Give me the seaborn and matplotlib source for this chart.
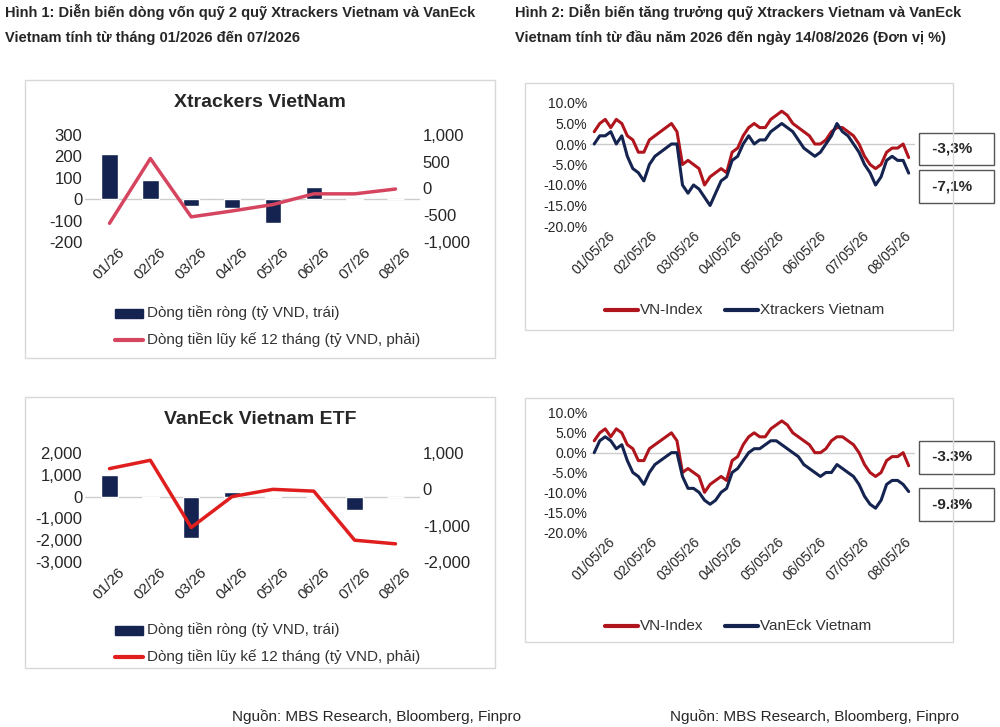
import numpy as np
import pandas as pd
import seaborn as sns
from matplotlib import pyplot as plt
from matplotlib.patches import Rectangle

sns.set_theme(style="white")
plt.rcParams['font.family'] = ['Liberation Sans', 'DejaVu Sans']

NAVY = '#14234f'
RED1 = '#d64560'
RED2 = '#e01e1e'
DRED = '#b0141c'

months = ['01/26', '02/26', '03/26', '04/26', '05/26', '06/26', '07/26', '08/26']
xt_net = [210, 90, -30, -40, -110, 55, -5, 0]
xt_cum = [-650, 560, -530, -420, -300, -100, -100, -10]
ve_net = [1000, -50, -1900, 200, 50, -20, -600, 0]
ve_cum = [570, 800, -1050, -200, 0, -50, -1400, -1500]

perf_ticks = ['01/05/26', '02/05/26', '03/05/26', '04/05/26', '05/05/26', '06/05/26', '07/05/26', '08/05/26']
vn_index = [3, 5, 6, 4, 6, 5, 2, 1, -2, -2, 1, 2, 3, 4, 5, 3, -5, -4, -5, -6, -10, -8, -7, -6, -7, -2, -1, 2, 4,
            5, 4, 4, 6, 7, 8, 7, 5, 4, 3, 2, 0, 0, 1, 3, 4, 4, 3, 2, 0, -3, -5, -6, -5, -2, -1, -1, 0, -3.3]
xtrackers = [0, 2, 2, 3, 0, 2, -3, -6, -7, -9, -5, -3, -2, -1, 0, 0, -10, -12, -10, -11, -13, -15, -12, -9, -8,
             -4, -3, 0, 2, 0, 1, 1, 3, 4, 5, 4, 3, 1, -1, -2, -3, -2, 0, 2, 5, 3, 2, 0, -2, -5, -7, -10, -8, -4,
             -3, -4, -4, -7.1]
vaneck = [0, 3, 4, 3, 1, 2, -2, -5, -6, -8, -5, -3, -2, -1, 0, 0, -6, -9, -9, -10, -12, -13, -12, -10, -9, -5,
          -4, -2, 0, 1, 1, 2, 3, 3, 2, 1, 0, -1, -3, -4, -5, -6, -5, -5, -3, -4, -5, -6, -8, -11, -13, -14, -12,
          -8, -7, -7, -8, -9.8]

fig = plt.figure(figsize=(10, 7.27), dpi=100)
W, H = 1000, 727


def ax_px(x0, y0, x1, y1):
    # pixel box (top-left origin) -> figure axes
    return fig.add_axes([x0 / W, 1 - y1 / H, (x1 - x0) / W, (y1 - y0) / H])


def frame(x0, y0, x1, y1):
    fig.patches.append(Rectangle((x0 / W, 1 - y1 / H), (x1 - x0) / W, (y1 - y0) / H,
                                 transform=fig.transFigure, fill=False, ec='#d8d8d8', lw=1))


def flow_panel(box, axbox, title, net, cum, lcol, lylim, lticks, rylim, rticks, legy):
    frame(*box)
    ax = ax_px(*axbox)
    df = pd.DataFrame({'m': months, 'v': net})
    sns.barplot(data=df, x='m', y='v', color=NAVY, width=0.4, ax=ax, saturation=1)
    ax.axhline(0, color='#cccccc', lw=1, zorder=0)
    ax.set_ylim(*lylim)
    ax.set_yticks(lticks)
    ax.set_yticklabels([f'{t:,}' for t in lticks], fontsize=12)
    ax.set_xlabel('')
    ax.set_ylabel('')
    ax.set_xticks(range(len(months)))
    ax.set_xticklabels(months, rotation=45, fontsize=11)
    ax2 = ax.twinx()
    sns.lineplot(x=range(len(months)), y=cum, color=lcol, lw=2.5, ax=ax2)
    ax2.set_ylim(*rylim)
    ax2.set_yticks(rticks)
    ax2.set_yticklabels([f'{t:,}' for t in rticks], fontsize=12)
    for a in (ax, ax2):
        for s in a.spines.values():
            s.set_visible(False)
        a.tick_params(length=0, pad=2)
    ax.set_xlim(-0.6, 7.6)
    fig.text((box[0] + box[2]) / 2 / W, 1 - (box[1] + 27) / H, title, ha='center', fontsize=14, fontweight='bold')
    lx = 115 / W
    fig.patches.append(Rectangle((lx, 1 - (legy + 5) / H), 28 / W, 9 / H, transform=fig.transFigure, color=NAVY))
    fig.text(lx + 32 / W, 1 - legy / H, 'Dòng tiền ròng (tỷ VND, trái)', fontsize=11, va='center', color='#333333')
    fig.lines.append(plt.Line2D([lx, lx + 28 / W], [1 - (legy + 27) / H] * 2, transform=fig.transFigure,
                                color=lcol, lw=3))
    fig.text(lx + 32 / W, 1 - (legy + 27) / H, 'Dòng tiền lũy kế 12 tháng (tỷ VND, phải)', fontsize=11,
             va='center', color='#333333')


def perf_panel(box, axbox, fund, fund_name, lab1, lab2, legy):
    frame(*box)
    ax = ax_px(*axbox)
    xs = np.linspace(0, 7.45, len(vn_index))
    sns.lineplot(x=xs, y=vn_index, color=DRED, lw=2.2, ax=ax)
    sns.lineplot(x=xs, y=fund, color=NAVY, lw=2.2, ax=ax)
    ax.axhline(0, color='#cccccc', lw=1, zorder=0)
    ax.set_ylim(-20, 10)
    yt = [10, 5, 0, -5, -10, -15, -20]
    ax.set_yticks(yt)
    ax.set_yticklabels([f'{t:.1f}%' for t in yt], fontsize=10)
    ax.set_xticks(range(8))
    ax.set_xticklabels(perf_ticks, rotation=45, fontsize=10)
    ax.set_xlim(-0.1, 7.6)
    for s in ax.spines.values():
        s.set_visible(False)
    ax.tick_params(length=0, pad=2)
    for val, txt in ((vn_index[-1], lab1), (fund[-1], lab2)):
        ax.annotate(f' {txt}   ', xy=(7.45, val), xytext=(1.04, (val + 20) / 30 + (0.07 if txt == lab1 else -0.11)),
                    textcoords='axes fraction', fontsize=11, fontweight='bold', va='center',
                    bbox=dict(boxstyle='square,pad=0.6', fc='white', ec='#555555', lw=1))
    lx = 605 / W
    fig.lines.append(plt.Line2D([lx, lx + 33 / W], [1 - legy / H] * 2, transform=fig.transFigure, color=DRED, lw=3))
    fig.text(lx + 35 / W, 1 - legy / H, 'VN-Index', fontsize=11, va='center', color='#333333')
    lx2 = 725 / W
    fig.lines.append(plt.Line2D([lx2, lx2 + 33 / W], [1 - legy / H] * 2, transform=fig.transFigure, color=NAVY, lw=3))
    fig.text(lx2 + 35 / W, 1 - legy / H, fund_name, fontsize=11, va='center', color='#333333')


flow_panel((25, 80, 495, 358), (85, 135, 420, 242), 'Xtrackers VietNam', xt_net, xt_cum, RED1,
           (-200, 300), [-200, -100, 0, 100, 200, 300], (-1000, 1000), [-1000, -500, 0, 500, 1000], 313)
flow_panel((25, 397, 495, 668), (85, 453, 420, 562), 'VanEck Vietnam ETF', ve_net, ve_cum, RED2,
           (-3000, 2000), [-3000, -2000, -1000, 0, 1000, 2000], (-2000, 1000), [-2000, -1000, 0, 1000], 630)
perf_panel((525, 83, 953, 330), (590, 103, 915, 226), xtrackers, 'Xtrackers Vietnam', '-3,3%', '-7,1%', 310)
perf_panel((525, 398, 953, 642), (590, 413, 915, 532), vaneck, 'VanEck Vietnam', '-3.3%', '-9.8%', 626)

fig.text(5 / W, 1 - 12 / H, 'Hình 1: Diễn biến dòng vốn quỹ 2 quỹ Xtrackers Vietnam và VanEck', fontsize=10.5,
         fontweight='bold', va='center')
fig.text(5 / W, 1 - 38 / H, 'Vietnam tính từ tháng 01/2026 đến 07/2026', fontsize=10.5, fontweight='bold',
         va='center')
fig.text(515 / W, 1 - 12 / H, 'Hình 2: Diễn biến tăng trưởng quỹ Xtrackers Vietnam và VanEck', fontsize=10.5,
         fontweight='bold', va='center')
fig.text(515 / W, 1 - 38 / H, 'Vietnam tính từ đầu năm 2026 đến ngày 14/08/2026 (Đơn vị %)', fontsize=10.5,
         fontweight='bold', va='center')
fig.text(232 / W, 1 - 717 / H, 'Nguồn: MBS Research, Bloomberg, Finpro', fontsize=11, va='center')
fig.text(670 / W, 1 - 717 / H, 'Nguồn: MBS Research, Bloomberg, Finpro', fontsize=11, va='center')

fig.savefig('out.png', dpi=100)
